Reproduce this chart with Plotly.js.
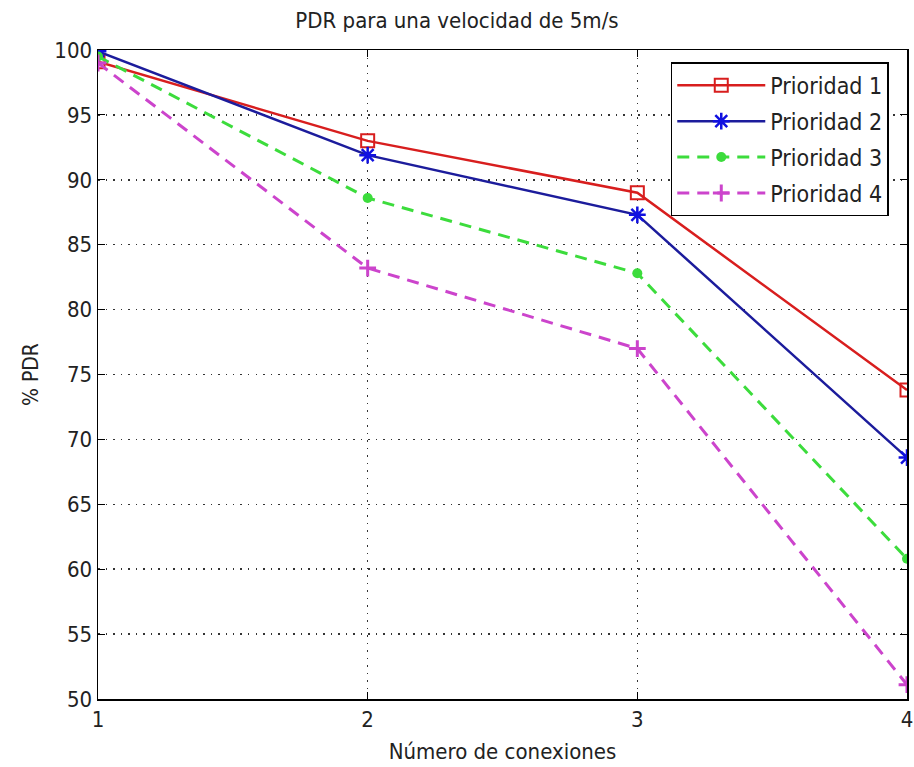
<!DOCTYPE html>
<html>
<head>
<meta charset="utf-8">
<script src="https://cdn.plot.ly/plotly-3.0.1.min.js"></script>
<style>html,body{margin:0;padding:0;background:#fff;}#chart{width:914px;height:767px;}</style>
</head>
<body>
<div id="chart"></div>
<script>
const conexiones = [1, 2, 3, 4];
const prioridad1 = [99.1, 93.0, 89.0, 73.8];
const prioridad2 = [99.9, 91.9, 87.3, 68.6];
const prioridad3 = [99.5, 88.6, 82.8, 60.8];
const prioridad4 = [99.0, 83.2, 77.0, 51.1];
const seriesNames = ["Prioridad 1", "Prioridad 2", "Prioridad 3", "Prioridad 4"];
const yTicks = [50, 55, 60, 65, 70, 75, 80, 85, 90, 95, 100];

const FONT = "DejaVu Sans Condensed, Liberation Sans Narrow, Liberation Sans, Arial, sans-serif";

const traces = [
  {x: conexiones, y: prioridad1, name: seriesNames[0], legendgroup: "g1", mode: "lines+markers",
   line: {color: "#d81e1e", width: 2.5, dash: "solid"},
   marker: {symbol: "square-open", size: 13, color: "#d81e1e", line: {width: 2, color: "#d81e1e"}}},
  {x: conexiones, y: prioridad2, name: seriesNames[1], legendgroup: "g2", mode: "lines+markers",
   line: {color: "#1c1c9c", width: 2.5, dash: "solid"},
   marker: {symbol: "asterisk-open", size: 14, color: "#1010e0", line: {width: 2.5, color: "#1010e0"}}},
  {x: conexiones, y: prioridad3, name: seriesNames[2], legendgroup: "g3", mode: "lines+markers",
   line: {color: "#3cdc3c", width: 3, dash: "12px,8px"},
   marker: {symbol: "circle", size: 10, color: "#3cdc3c"}},
  {x: conexiones, y: prioridad4, name: seriesNames[3], legendgroup: "g4", mode: "lines+markers",
   line: {color: "#cc44cc", width: 3, dash: "12px,8px"},
   marker: {symbol: "cross-thin-open", size: 12, color: "#cc44cc", line: {width: 3, color: "#cc44cc"}}}
];

const layout = {
  width: 914, height: 767,
  margin: {l: 98, r: 7, t: 50, b: 68},
  paper_bgcolor: "#ffffff", plot_bgcolor: "#ffffff",
  font: {family: FONT, size: 20, color: "#222"},
  title: {text: "PDR para una velocidad de 5m/s", font: {family: FONT, size: 22, color: "#222"}, x: 0.5, xanchor: "center", y: 0.974, yanchor: "middle"},
  xaxis: {
    range: [1, 4], tickvals: conexiones, ticktext: conexiones.map(String),
    showgrid: true, gridcolor: "#333", griddash: "1.5px,6px", gridwidth: 1.5,
    showline: true, linecolor: "#000", linewidth: 1.5, mirror: "ticks",
    ticks: "inside", ticklen: 7, tickcolor: "#000", ticklabeloverflow: "allow",
    zeroline: false, tickfont: {family: FONT, size: 22, color: "#222"},
    title: {text: "Número de conexiones", font: {family: FONT, size: 22, color: "#222"}, standoff: 12}
  },
  yaxis: {
    range: [50, 100], tickvals: yTicks, ticktext: yTicks.map(String),
    showgrid: true, gridcolor: "#333", griddash: "1.5px,6px", gridwidth: 1.5,
    showline: true, linecolor: "#000", linewidth: 1.5, mirror: "ticks",
    ticks: "inside", ticklen: 7, tickcolor: "#000", ticklabeloverflow: "allow",
    zeroline: false, tickfont: {family: FONT, size: 22, color: "#222"},
    title: {text: "% PDR", font: {family: FONT, size: 21, color: "#222"}, standoff: 10}
  },
  showlegend: true,
  legend: {
    x: 0.708, y: 0.981, xanchor: "left", yanchor: "top",
    bgcolor: "#ffffff", bordercolor: "#000", borderwidth: 1.5,
    font: {family: FONT, size: 23, color: "#222"},
    tracegroupgap: 3, itemwidth: 88
  }
};

Plotly.newPlot("chart", traces, layout, {displayModeBar: false, staticPlot: true});
</script>
</body>
</html>
